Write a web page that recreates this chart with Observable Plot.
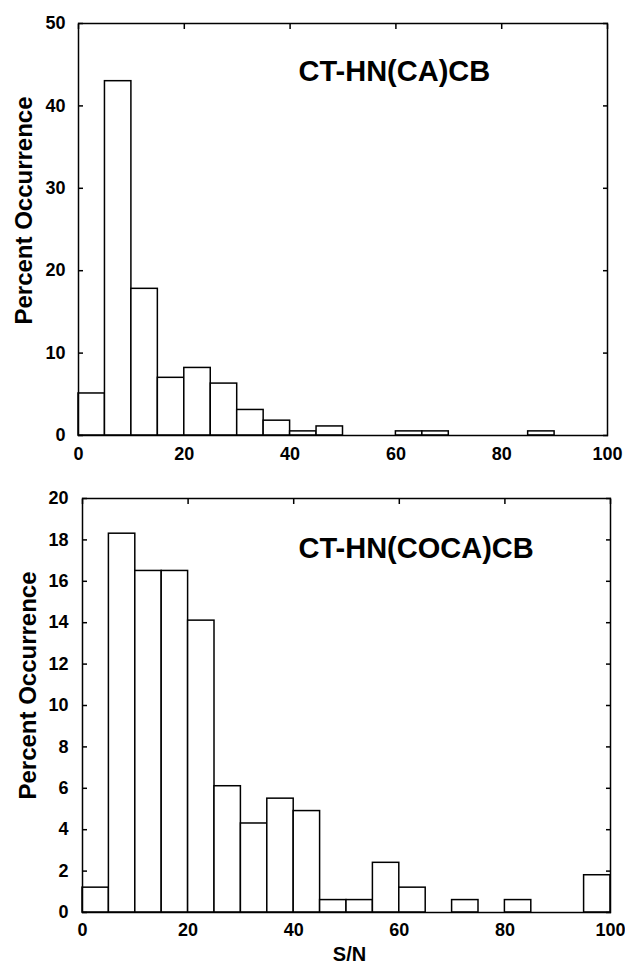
<!DOCTYPE html>
<html><head><meta charset="utf-8">
<script src="https://cdn.jsdelivr.net/npm/d3@7"></script>
<script src="https://cdn.jsdelivr.net/npm/@observablehq/plot@0.6"></script>
<style>body{margin:0;background:#fff} svg{display:block}</style>
</head><body><div id="c"></div>
<script>
const binStarts = [0,5,10,15,20,25,30,35,40,45,50,55,60,65,70,75,80,85,90,95];
const binWidth = 5;
const topValues = [5.1,43.0,17.8,7.0,8.2,6.3,3.1,1.8,0.5,1.1,0,0,0.5,0.5,0,0,0,0.5,0,0];
const bottomValues = [1.2,18.3,16.5,16.5,14.1,6.1,4.3,5.5,4.9,0.6,0.6,2.4,1.2,0,0.6,0,0.6,0,0,1.8];
const xTicks = [0,20,40,60,80,100];
const topYTicks = [0,10,20,30,40,50];
const bottomYTicks = [0,2,4,6,8,10,12,14,16,18,20];
const topTitle = "CT-HN(CA)CB";
const bottomTitle = "CT-HN(COCA)CB";
const yLabel = "Percent Occurrence";
const xLabel = "S/N";

const FONT = "'Liberation Sans', Arial, Helvetica, sans-serif";

function panel(o) {
  const data = binStarts.map((x0, i) => ({x1: x0, x2: x0 + binWidth, y: o.values[i]})).filter(d => d.y > 0);
  const marks = [
    Plot.rectY(data, {x1: "x1", x2: "x2", y: "y", fill: "white", stroke: "black", strokeWidth: 1.5}),
    Plot.frame({stroke: "black", strokeWidth: 1.5}),
    Plot.axisX({ticks: xTicks, anchor: "bottom", tickSize: 0, tickPadding: o.xPad, label: null, fontSize: 18, fontWeight: "bold"}),
    Plot.axisX({ticks: xTicks, anchor: "top", tickSize: -5, tickFormat: () => "", label: null, strokeWidth: 1.5}),
    Plot.axisY({ticks: o.yTicks, anchor: "left", tickSize: -5, tickPadding: o.yPad, label: null, fontSize: 18, fontWeight: "bold", strokeWidth: 1.5}),
    Plot.axisY({ticks: o.yTicks, anchor: "right", tickSize: -5, tickFormat: () => "", label: null, strokeWidth: 1.5}),
    Plot.text([o.title], {text: d => d, frameAnchor: "top-left", dx: o.titleDx, dy: o.titleDy, textAnchor: "start", lineAnchor: "middle", fontSize: 29, fontWeight: "bold", fill: "black"}),
    Plot.text([yLabel], {text: d => d, frameAnchor: "left", rotate: -90, dx: o.ylDx, dy: o.ylDy, textAnchor: "middle", lineAnchor: "middle", fontSize: 24, fontWeight: "bold", fill: "black"})
  ];
  if (o.showX) marks.push(Plot.text([xLabel], {text: d => d, frameAnchor: "bottom", dx: 3, dy: 42, textAnchor: "middle", lineAnchor: "middle", fontSize: 20, fontWeight: "bold", fill: "black"}));
  return Plot.plot({
    width: 625, height: o.height,
    marginTop: o.mt, marginBottom: o.mb, marginLeft: o.ml, marginRight: o.mr,
    style: {fontFamily: FONT, fontWeight: "bold", fontSize: "18px", color: "black", background: "white", overflow: "visible"},
    x: {domain: [0, 100]},
    y: {domain: [0, o.yMax]},
    marks
  });
}

const c = document.getElementById("c");
c.appendChild(panel({values: topValues, yMax: 50, yTicks: topYTicks, title: topTitle, titleDx: 220, titleDy: 48,
  height: 465, mt: 23, mb: 30, ml: 78, mr: 18, xPad: 12, yPad: 18, ylDx: -54, ylDy: -19, showX: false}));
c.appendChild(panel({values: bottomValues, yMax: 20, yTicks: bottomYTicks, title: bottomTitle, titleDx: 216, titleDy: 50,
  height: 498, mt: 33, mb: 51, ml: 82, mr: 15, xPad: 11, yPad: 19, ylDx: -54.5, ylDy: -20, showX: true}));
</script>
</body></html>
